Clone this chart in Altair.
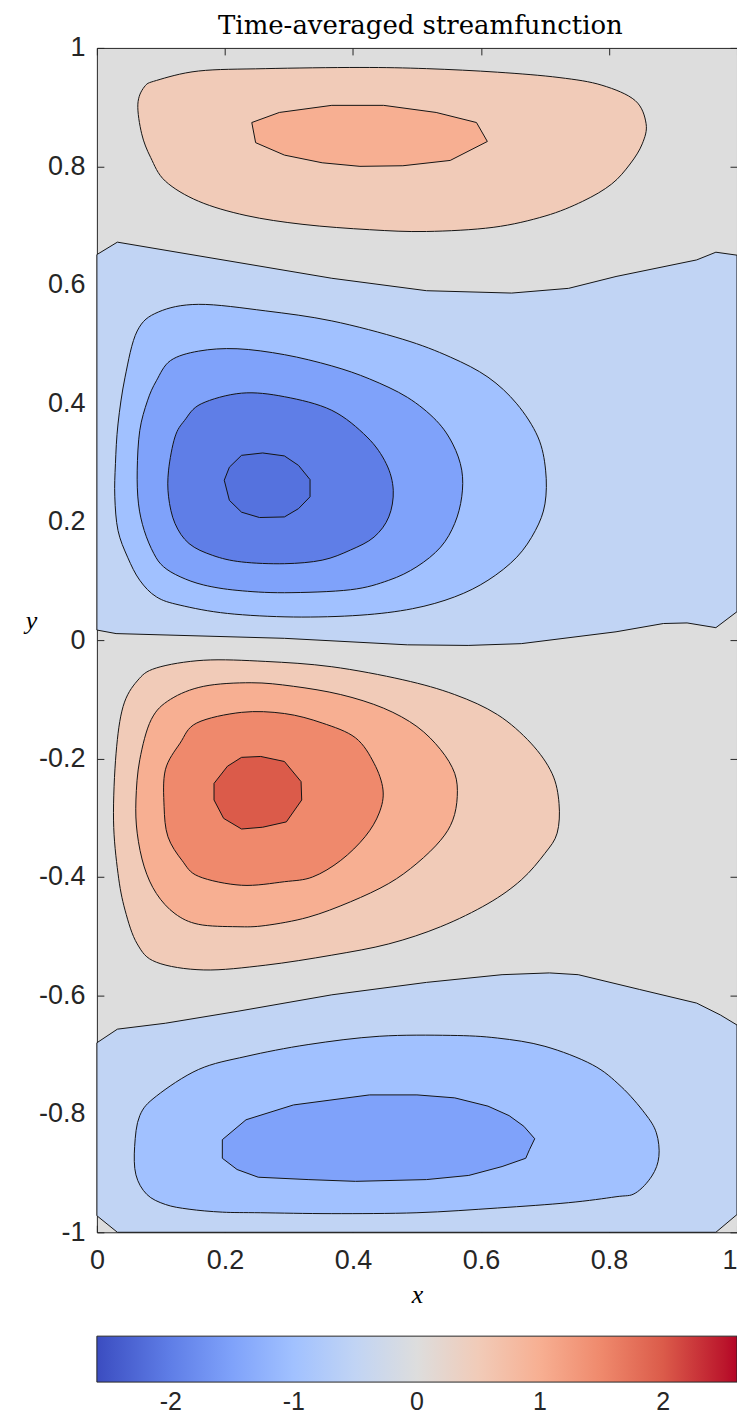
import altair as alt
import pandas as pd

TITLE = "Time-averaged streamfunction"
X_TICKS = [0, 0.2, 0.4, 0.6, 0.8, 1]
Y_TICKS = [-1, -0.8, -0.6, -0.4, -0.2, 0, 0.2, 0.4, 0.6, 0.8, 1]
CBAR_TICKS = [-2, -1, 0, 1, 2]
CBAR_DOMAIN = [-2.6, 2.6]

# diverging cool-warm colour map (stops, left to right)
COOLWARM = ["#3b4cc0", "#4d68d7", "#6282ea", "#779af7", "#8db0fe", "#a3c2ff",
            "#b8d0f9", "#ccd9ee", "#dddddd", "#ecd3c5", "#f5c4ad", "#f7b194",
            "#f49a7b", "#ec7f63", "#de604d", "#cb3e38", "#b40426"]

# ---- contour polygons (x in [0,1], y in [-1,1]) ----
UPPER_BAND_X = [0, 0, 0.032, 0.367, 0.515, 0.648, 0.737, 0.811, 0.937, 0.967, 1.0, 1.0,
                0.967, 0.922, 0.885, 0.811, 0.663, 0.580, 0.485, 0.293, 0.030]
UPPER_BAND_Y = [0.017, 0.651, 0.672, 0.611, 0.590, 0.586, 0.594, 0.614, 0.642, 0.655, 0.650, 0.048,
                0.021, 0.029, 0.028, 0.014, -0.006, -0.009, -0.008, 0.003, 0.011]

BOTTOM_BAND_X = [0, 0.032, 0.107, 0.219, 0.367, 0.515, 0.633, 0.707, 0.752, 0.848, 0.937, 0.974,
                 1.0, 1.0, 0.967, 0.032, 0]
BOTTOM_BAND_Y = [-0.680, -0.657, -0.647, -0.627, -0.599, -0.578, -0.565, -0.562, -0.565, -0.590,
                 -0.613, -0.633, -0.650, -0.970, -1.0, -1.0, -0.972]

TOP_OUTER_X = [0.093, 0.159, 0.263, 0.411, 0.515, 0.626, 0.722, 0.789, 0.841, 0.858, 0.852, 0.833,
               0.804, 0.759, 0.700, 0.619, 0.515, 0.426, 0.322, 0.233, 0.159, 0.107, 0.084, 0.070,
               0.064, 0.074]
TOP_OUTER_Y = [0.945, 0.961, 0.965, 0.967, 0.965, 0.959, 0.950, 0.937, 0.911, 0.872, 0.838, 0.804,
               0.770, 0.741, 0.716, 0.697, 0.690, 0.693, 0.702, 0.717, 0.741, 0.775, 0.815, 0.855,
               0.905, 0.934]

TOP_INNER_X = [0.242, 0.285, 0.367, 0.448, 0.530, 0.593, 0.610, 0.552, 0.478, 0.411, 0.352, 0.293, 0.248]
TOP_INNER_Y = [0.874, 0.891, 0.903, 0.903, 0.891, 0.874, 0.842, 0.810, 0.801, 0.800, 0.806, 0.819, 0.840]

UPPER_M1_X = [0.096, 0.159, 0.263, 0.367, 0.478, 0.552, 0.611, 0.656, 0.689, 0.701, 0.700, 0.685,
              0.656, 0.611, 0.559, 0.493, 0.411, 0.307, 0.204, 0.130, 0.093, 0.067, 0.048, 0.033,
              0.028, 0.029, 0.033, 0.044, 0.063]
UPPER_M1_Y = [0.554, 0.567, 0.556, 0.539, 0.508, 0.478, 0.444, 0.399, 0.343, 0.287, 0.230, 0.185,
              0.140, 0.101, 0.073, 0.053, 0.042, 0.039, 0.045, 0.059, 0.073, 0.101, 0.140, 0.185,
              0.242, 0.298, 0.365, 0.444, 0.522]

UPPER_M15_X = [0.115, 0.159, 0.219, 0.293, 0.367, 0.426, 0.485, 0.530, 0.556, 0.570, 0.570, 0.559,
               0.537, 0.500, 0.456, 0.396, 0.293, 0.219, 0.167, 0.130, 0.104, 0.089, 0.074, 0.065,
               0.063, 0.067, 0.079, 0.093]
UPPER_M15_Y = [0.472, 0.488, 0.492, 0.482, 0.463, 0.441, 0.410, 0.371, 0.331, 0.287, 0.242, 0.197,
               0.157, 0.124, 0.101, 0.085, 0.080, 0.084, 0.093, 0.107, 0.124, 0.146, 0.185, 0.230,
               0.287, 0.354, 0.404, 0.438]

UPPER_M2_X = [0.163, 0.226, 0.293, 0.367, 0.422, 0.452, 0.463, 0.456, 0.433, 0.396, 0.352, 0.293,
              0.226, 0.181, 0.144, 0.122, 0.112, 0.112, 0.122, 0.137]
UPPER_M2_Y = [0.399, 0.417, 0.411, 0.388, 0.343, 0.298, 0.253, 0.208, 0.174, 0.152, 0.135, 0.129,
              0.132, 0.143, 0.163, 0.197, 0.242, 0.287, 0.343, 0.371]

UPPER_CORE_X = [0.226, 0.259, 0.293, 0.315, 0.333, 0.333, 0.315, 0.293, 0.254, 0.226, 0.207, 0.199, 0.207]
UPPER_CORE_Y = [0.312, 0.316, 0.311, 0.295, 0.271, 0.242, 0.222, 0.208, 0.207, 0.216, 0.236, 0.270, 0.292]

LOWER_P05_X = [0.093, 0.167, 0.263, 0.367, 0.478, 0.559, 0.626, 0.678, 0.711, 0.722, 0.719, 0.700,
               0.663, 0.611, 0.537, 0.456, 0.367, 0.263, 0.167, 0.093, 0.063, 0.044, 0.033, 0.026,
               0.030, 0.041, 0.063]
LOWER_P05_Y = [-0.047, -0.034, -0.036, -0.045, -0.067, -0.092, -0.126, -0.174, -0.225, -0.276,
               -0.326, -0.360, -0.405, -0.445, -0.484, -0.513, -0.532, -0.549, -0.557, -0.544,
               -0.513, -0.456, -0.394, -0.304, -0.191, -0.112, -0.069]

LOWER_P1_X = [0.115, 0.167, 0.241, 0.307, 0.381, 0.448, 0.500, 0.537, 0.559, 0.563, 0.556, 0.537,
              0.500, 0.456, 0.396, 0.330, 0.263, 0.219, 0.159, 0.122, 0.093, 0.074, 0.063, 0.061,
              0.067, 0.085]
LOWER_P1_Y = [-0.100, -0.078, -0.072, -0.078, -0.092, -0.115, -0.146, -0.185, -0.225, -0.264,
              -0.304, -0.338, -0.377, -0.411, -0.442, -0.468, -0.482, -0.484, -0.480, -0.462,
              -0.428, -0.383, -0.326, -0.270, -0.202, -0.134]

LOWER_P15_X = [0.156, 0.226, 0.293, 0.352, 0.404, 0.433, 0.447, 0.441, 0.419, 0.381, 0.337, 0.293,
               0.226, 0.159, 0.133, 0.111, 0.105, 0.107, 0.130]
LOWER_P15_Y = [-0.140, -0.122, -0.124, -0.140, -0.165, -0.208, -0.253, -0.292, -0.332, -0.372,
               -0.400, -0.408, -0.414, -0.399, -0.372, -0.332, -0.281, -0.219, -0.174]

LOWER_P2_X = [0.226, 0.256, 0.293, 0.319, 0.320, 0.296, 0.259, 0.226, 0.198, 0.183, 0.183, 0.204]
LOWER_P2_Y = [-0.198, -0.1965, -0.205, -0.239, -0.270, -0.307, -0.316, -0.319, -0.301, -0.270,
              -0.242, -0.213]

BOTTOM_M1_X = [0.093, 0.159, 0.233, 0.330, 0.441, 0.552, 0.626, 0.700, 0.774, 0.819, 0.856, 0.874,
               0.878, 0.867, 0.841, 0.811, 0.737, 0.626, 0.500, 0.367, 0.256, 0.196, 0.144, 0.107,
               0.078, 0.061, 0.059, 0.067]
BOTTOM_M1_Y = [-0.770, -0.725, -0.703, -0.683, -0.669, -0.6675, -0.672, -0.686, -0.717, -0.754,
               -0.799, -0.832, -0.872, -0.905, -0.934, -0.940, -0.950, -0.959, -0.967, -0.9685,
               -0.967, -0.966, -0.961, -0.953, -0.936, -0.903, -0.855, -0.803]

BOTTOM_M15_X = [0.196, 0.233, 0.307, 0.426, 0.500, 0.559, 0.611, 0.644, 0.667, 0.684, 0.676, 0.670,
                0.633, 0.581, 0.515, 0.404, 0.330, 0.252, 0.219, 0.196]
BOTTOM_M15_Y = [-0.8436, -0.810, -0.785, -0.768, -0.768, -0.773, -0.787, -0.803, -0.821, -0.842,
                -0.860, -0.875, -0.889, -0.904, -0.911, -0.914, -0.911, -0.907, -0.894, -0.875]

# drawing order (outer regions first); level = value used for the fill colour
POLYGONS = [
    ("upper_band", -0.5, UPPER_BAND_X, UPPER_BAND_Y),
    ("bottom_band", -0.5, BOTTOM_BAND_X, BOTTOM_BAND_Y),
    ("top_outer", 0.5, TOP_OUTER_X, TOP_OUTER_Y),
    ("lower_p05", 0.5, LOWER_P05_X, LOWER_P05_Y),
    ("top_inner", 1.0, TOP_INNER_X, TOP_INNER_Y),
    ("upper_m1", -1.0, UPPER_M1_X, UPPER_M1_Y),
    ("lower_p1", 1.0, LOWER_P1_X, LOWER_P1_Y),
    ("bottom_m1", -1.0, BOTTOM_M1_X, BOTTOM_M1_Y),
    ("upper_m15", -1.5, UPPER_M15_X, UPPER_M15_Y),
    ("lower_p15", 1.5, LOWER_P15_X, LOWER_P15_Y),
    ("bottom_m15", -1.5, BOTTOM_M15_X, BOTTOM_M15_Y),
    ("upper_m2", -2.0, UPPER_M2_X, UPPER_M2_Y),
    ("lower_p2", 2.0, LOWER_P2_X, LOWER_P2_Y),
    ("upper_core", -2.15, UPPER_CORE_X, UPPER_CORE_Y),
]
SMOOTH = {"top_outer", "lower_p05", "upper_m1", "lower_p1", "bottom_m1",
          "upper_m15", "lower_p15", "upper_m2"}

rows = []
for pid, level, xs, ys in POLYGONS:
    for i, (xv, yv) in enumerate(zip(xs, ys)):
        rows.append({"pid": pid, "level": level, "i": i, "x": xv, "y": yv})
df = pd.DataFrame(rows)

INK = "#262626"
SANS = "Liberation Sans"
SERIF = "Liberation Serif"
W, H = 641, 1186
LBL = 27

x_scale = alt.Scale(domain=[0, 1], nice=False, zero=False)
y_scale = alt.Scale(domain=[-1, 1], nice=False, zero=False)
fill_scale = alt.Scale(domain=CBAR_DOMAIN, range=COOLWARM, interpolate="rgb")

legend = alt.Legend(
    orient="none", direction="horizontal", legendX=0, legendY=1290,
    gradientLength=W, gradientThickness=46, title=None, values=CBAR_TICKS,
    labelExpr="toString(datum.value)", labelFont=SANS, labelFontSize=25,
    labelColor=INK, labelOffset=8, labelAlign="center", labelOverlap=False,
    gradientStrokeColor=INK, gradientStrokeWidth=1, padding=0,
)
fill_enc = alt.Fill("level:Q", scale=fill_scale, legend=legend)

common_axis = dict(offset=-7, tickSize=7, tickColor=INK, tickWidth=1, domain=False,
                   grid=False, labelFont=SANS, labelFontSize=LBL, labelColor=INK,
                   labelFlush=False, labelOverlap=False,
                   labelExpr="toString(datum.value)")

ax_bottom = alt.Axis(orient="bottom", values=X_TICKS, labelPadding=15, title="x",
                     labelAlign={"condition": {"test": "datum.value == 1", "value": "right"},
                                 "value": "center"},
                     titleFont=SERIF, titleFontStyle="italic", titleFontWeight="normal",
                     titleFontSize=26, titleColor="black", titleX=W / 2, titleY=77,
                     titleAlign="center", titleBaseline="alphabetic", **common_axis)
ax_left = alt.Axis(orient="left", values=Y_TICKS, labelPadding=12, title="y",
                   titleFont=SERIF, titleFontStyle="italic", titleFontWeight="normal",
                   titleFontSize=26, titleColor="black", titleAngle=0, titleX=-73,
                   titleY=581, titleAlign="center", titleBaseline="alphabetic", **common_axis)
# top axis carries the chart title (positioned above the frame)
ax_top = alt.Axis(orient="top", values=X_TICKS, labels=False, title=TITLE, offset=-7,
                  tickSize=7, tickColor=INK, tickWidth=1, domain=False, grid=False,
                  titleFont="DejaVu Serif", titleFontWeight="normal", titleFontSize=26,
                  titleColor="black", titleX=W / 2 + 3, titleY=-21, titleAlign="center",
                  titleBaseline="alphabetic", titleAngle=0)
ax_right = alt.Axis(orient="right", values=Y_TICKS, labels=False, title=None, offset=-7,
                    tickSize=7, tickColor=INK, tickWidth=1, domain=False, grid=False)

layers = []
for k, (pid, level, xs, ys) in enumerate(POLYGONS):
    if k == 0:
        xa, ya = ax_bottom, ax_left
    elif k == 1:
        xa, ya = ax_top, ax_right
    else:
        xa, ya = None, None
    interp = "cardinal-closed" if pid in SMOOTH else "linear-closed"
    layer = alt.Chart(df).transform_filter(
        alt.datum.pid == pid
    ).mark_line(
        interpolate=interp, stroke="#141414", strokeWidth=1, strokeJoin="round"
    ).encode(
        x=alt.X("x:Q", scale=x_scale, axis=xa),
        y=alt.Y("y:Q", scale=y_scale, axis=ya),
        fill=fill_enc,
        order=alt.Order("i:Q"),
    )
    layers.append(layer)

chart = alt.layer(*layers).resolve_axis(
    x="independent", y="independent"
).properties(
    width=W, height=H,
    autosize=alt.AutoSizeParams(type="none"),
    padding={"left": 89, "top": 39, "right": 0, "bottom": 183},
).configure_view(
    stroke=INK, strokeWidth=1, fill="#dddddd"
)

chart.save("out.html", embed_options={"renderer": "svg", "actions": False})
